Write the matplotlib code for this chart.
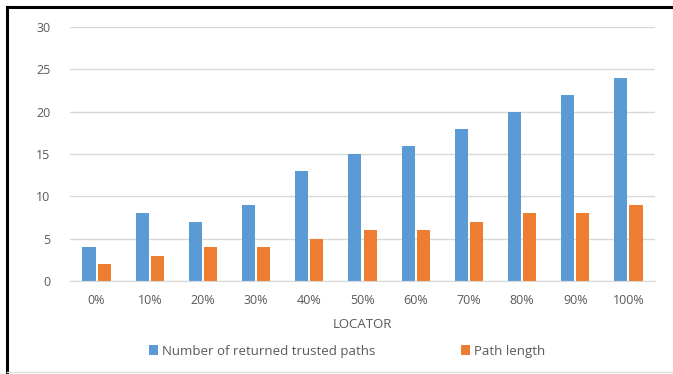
import matplotlib
matplotlib.use("Agg")
import matplotlib.pyplot as plt
from matplotlib.lines import Line2D
import numpy as np

categories = ["0%", "10%", "20%", "30%", "40%", "50%", "60%", "70%", "80%", "90%", "100%"]
trusted_paths = [4, 8, 7, 9, 13, 15, 16, 18, 20, 22, 24]
path_length = [2, 3, 4, 4, 5, 6, 6, 7, 8, 8, 9]
yticks = [0, 5, 10, 15, 20, 25, 30]

plt.rcParams['font.family'] = ['Open Sans', 'DejaVu Sans']
W, H = 673, 374
fig = plt.figure(figsize=(W/100, H/100), dpi=100)
ax = fig.add_axes([70/W, 1-281/H, 585/W, 254/H])

x = np.arange(len(categories))
bw = 0.245
blue = '#5B9BD5'
orange = '#ED7D31'
ax.bar(x - bw/2 - 0.02, trusted_paths, bw, color=blue, label='Number of returned trusted paths')
ax.bar(x + bw/2 + 0.02, path_length, bw, color=orange, label='Path length')

ax.set_xlim(-0.5, len(categories) - 0.5)
ax.set_ylim(0, 30)
ax.set_yticks(yticks)
ax.set_xticks(x)
ax.set_xticklabels(categories)
tc = '#595959'
ax.tick_params(axis='both', length=0, colors=tc, labelsize=9)
ax.tick_params(axis='y', pad=14)
ax.tick_params(axis='x', pad=9)
ax.yaxis.grid(True, color='#D9D9D9', linewidth=1)
ax.set_axisbelow(True)
for s in ['top', 'right', 'left']:
    ax.spines[s].set_visible(False)
ax.spines['bottom'].set_color('#D9D9D9')
ax.set_xlabel('LOCATOR', color=tc, fontsize=9.5, labelpad=8)

fig.legend(loc='center', bbox_to_anchor=(347/W, 1-351/H), ncol=2, frameon=False,
           fontsize=9.5, labelcolor=tc, handlelength=0.7, handleheight=0.7,
           handletextpad=0.3, columnspacing=6.5)

fig.add_artist(Line2D([7/W, 1], [1-7/H, 1-7/H], color='black', linewidth=2.2, transform=fig.transFigure))
fig.add_artist(Line2D([7/W, 7/W], [0, 1-7/H], color='black', linewidth=2.2, transform=fig.transFigure))
fig.add_artist(Line2D([7/W, 1], [2/H, 2/H], color='#E0E0E0', linewidth=1, transform=fig.transFigure))

fig.savefig('out.png', dpi=100)
